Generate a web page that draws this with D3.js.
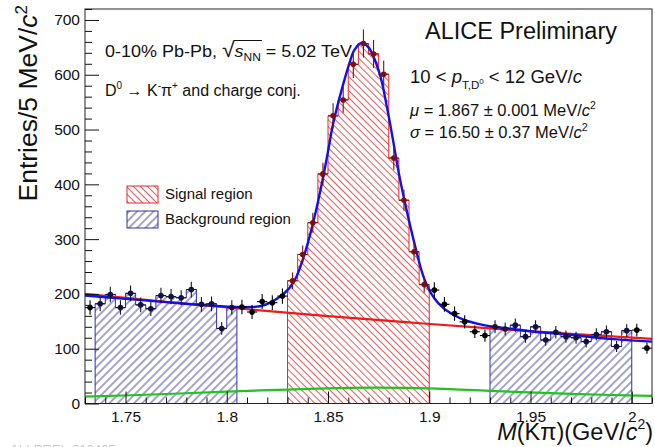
<!DOCTYPE html>
<html><head><meta charset="utf-8">
<script src="https://cdn.jsdelivr.net/npm/d3@7"></script>
<style>
body{margin:0;background:#fff}
svg{display:block;font-family:"Liberation Sans",Arial,Helvetica,sans-serif}
text{white-space:pre}
</style>
</head><body>
<svg id="c" width="655" height="447"></svg>
<script>
// ---------------- data ----------------
const binLow = 1.73, binWidth = 0.005;
const counts = [175,182,199,175,201,180,173,197,195,193,
                208,181,182,137,175,176,167,186,184,196,
                224,272,330,419,525,554,619,657,638,601,
                448,371,277,217,207,181,164,149,131,124,
                140,136,143,122,140,116,130,122,120,113,
                126,131,104,133,134,101];
const signalRange = [1.83, 1.90];
const bkgRanges = [[1.735, 1.805], [1.93, 2.00]];
const totalFit = [[1.730,197],[1.750,191],[1.770,185],[1.790,179],[1.805,176],[1.812,176],[1.817,178],
  [1.822,185],[1.827,197],[1.831,211],[1.834,228],[1.8375,262],[1.842,320],[1.847,402],[1.850,460],
  [1.8525,510],[1.857,576],[1.8605,620],[1.863,645],[1.8665,658],[1.870,650],[1.8755,602],[1.879,543],
  [1.882,483],[1.885,420],[1.8885,358],[1.8925,295],[1.8975,228],[1.9025,192],[1.907,174],[1.912,162],
  [1.917,153],[1.927,143],[1.937,138],[1.952,131],[1.971,125],[1.989,118],[2.01,113]];
const bkgFit = [[1.73,200],[1.77,185.5],[1.81,172],[1.85,159.5],[1.89,148],[1.93,137],[1.97,127],[2.01,118]];
const reflFit = [[1.73,12.5],[1.76,16],[1.80,21.5],[1.83,25.5],[1.86,28.5],[1.875,28.8],[1.90,27.5],
  [1.93,23],[1.96,19],[1.99,15.5],[2.01,14]];
const xTicks = [1.75, 1.8, 1.85, 1.9, 1.95, 2.0];
const xTickLabels = ["1.75","1.8","1.85","1.9","1.95","2"];
const yTicks = [0,100,200,300,400,500,600,700];
const legendLabels = ["Signal region","Background region"];

// ---------------- setup ----------------
const svg = d3.select("#c");
const x = d3.scaleLinear().domain([1.73, 2.01]).range([85, 652]);
const y = d3.scaleLinear().domain([0, 720]).range([403.5, 9]);
const RED = "#e8262a", BLUE = "#30309a";

const defs = svg.append("defs");
function hatch(id, color, angle, s, sw){
  const p = defs.append("pattern").attr("id", id).attr("patternUnits","userSpaceOnUse")
    .attr("width", s).attr("height", s).attr("patternTransform", `rotate(${angle})`);
  p.append("line").attr("x1", s/2).attr("y1", -1).attr("x2", s/2).attr("y2", s+1)
    .attr("stroke", color).attr("stroke-width", sw);
}
hatch("hRed", "#e24848", -45, 5, 0.9);
hatch("hBlue", "#383896", 45, 5.8, 0.9);

const bins = counts.map((c,i)=>({lo: binLow+i*binWidth, hi: binLow+(i+1)*binWidth,
  m: binLow+(i+0.5)*binWidth, c: c}));
const inR = (d,r)=> d.m > r[0] && d.m < r[1];

function regionPath(r){
  const bs = bins.filter(d=>inR(d,r));
  let p = `M${x(r[0])},${y(0)}`;
  bs.forEach(d=>{ p += `L${x(d.lo)},${y(d.c)}L${x(d.hi)},${y(d.c)}`; });
  p += `L${x(r[1])},${y(0)}Z`;
  return p;
}

const plot = svg.append("g");
bkgRanges.forEach(r=>{
  plot.append("path").attr("d", regionPath(r)).attr("fill","url(#hBlue)")
    .attr("stroke", BLUE).attr("stroke-width",1);
});
plot.append("path").attr("d", regionPath(signalRange)).attr("fill","url(#hRed)")
  .attr("stroke", RED).attr("stroke-width",1);

// curves
const line = d3.line().x(d=>x(d[0])).y(d=>y(d[1])).curve(d3.curveCatmullRom.alpha(0.5));
plot.append("path").attr("d", line(reflFit)).attr("fill","none").attr("stroke","#1fc41f").attr("stroke-width",2.2);
plot.append("path").attr("d", line(bkgFit)).attr("fill","none").attr("stroke","#f01818").attr("stroke-width",2.2);
plot.append("path").attr("d", line(totalFit)).attr("fill","none").attr("stroke","#1010e8").attr("stroke-width",2.4);

// data points
function ptColor(d){
  if (inR(d, signalRange)) return "#7a1010";
  if (bkgRanges.some(r=>inR(d,r))) return "#12123c";
  return "#000";
}
const pts = plot.append("g");
bins.forEach(d=>{
  const col = ptColor(d), e = Math.sqrt(d.c);
  pts.append("line").attr("x1", x(d.m)).attr("x2", x(d.m)).attr("y1", y(d.c-e)).attr("y2", y(d.c+e))
    .attr("stroke", col).attr("stroke-width",1.1);
  pts.append("line").attr("x1", x(d.lo)).attr("x2", x(d.hi)).attr("y1", y(d.c)).attr("y2", y(d.c))
    .attr("stroke", col).attr("stroke-width",1.1);
  pts.append("circle").attr("cx", x(d.m)).attr("cy", y(d.c)).attr("r", 2.8).attr("fill", col);
});

// frame
svg.append("rect").attr("x", x(1.73)).attr("y", y(720)).attr("width", x(2.01)-x(1.73))
  .attr("height", y(0)-y(720)).attr("fill","none").attr("stroke","#222").attr("stroke-width",1);

// axes
const fs = 15.5;
svg.append("g").attr("transform",`translate(${x(1.73)},0)`)
  .call(d3.axisLeft(y).tickValues(yTicks).tickSize(-14).tickPadding(5).tickFormat(d3.format("d")));
const yMinor = d3.range(0, 721, 20).filter(v=>v%100!==0);
svg.append("g").attr("transform",`translate(${x(1.73)},0)`)
  .call(d3.axisLeft(y).tickValues(yMinor).tickSize(-7).tickFormat(""));
svg.append("g").attr("transform",`translate(0,${y(0)})`)
  .call(d3.axisBottom(x).tickValues(xTicks).tickSize(-12).tickPadding(7).tickFormat((d,i)=>xTickLabels[i]));
const xMinor = d3.range(173, 202, 1).map(v=>v/100).filter(v=>Math.round(v*100)%5!==0);
svg.append("g").attr("transform",`translate(0,${y(0)})`)
  .call(d3.axisBottom(x).tickValues(xMinor).tickSize(-6).tickFormat(""));
svg.selectAll(".domain").remove();
svg.selectAll(".tick line").attr("stroke","#111").attr("stroke-width",1);
svg.selectAll(".tick text").attr("font-size", fs).attr("font-family",null).attr("fill","#111");

// rich text helper
function rich(parent, x0, y0, size, parts, anchor){
  const t = parent.append("text").attr("x", x0).attr("y", y0).attr("font-size", size).attr("fill","#111");
  if (anchor) t.attr("text-anchor", anchor);
  let cur = 0;
  parts.forEach(p=>{
    const sh = p.sh || 0;
    const ts = t.append("tspan").text(p.t).attr("dy", sh-cur);
    cur = sh;
    if (p.sz) ts.attr("font-size", p.sz);
    if (p.it) ts.attr("font-style","italic");
    if (p.cls) ts.attr("class", p.cls);
  });
  return t;
}

// axis titles
rich(svg.append("g").attr("transform","translate(37,5) rotate(-90)"), 0, 0, 26.5,
  [{t:"Entries/5 MeV/"},{t:"c",it:1},{t:"2",sz:17,sh:-10}], "end");
rich(svg, 653, 440, 23.5,
  [{t:"M",it:1},{t:"(K\u03c0)(GeV/"},{t:"c",it:1},{t:"2",sz:14,sh:-11},{t:")",sh:0}], "end");

// annotations
const t1 = rich(svg, 105, 57, 16.5, [
  {t:"0-10% Pb-Pb, "},{t:"\u221a",sz:21,cls:"sq"},{t:"s",it:1,cls:"ss"},{t:"NN",sz:11,sh:4,cls:"nn"},{t:" = 5.02 TeV",sh:0}]);
t1.attr("textLength", 247).attr("lengthAdjust","spacingAndGlyphs");
const sqB = t1.select(".sq").node().getBBox();
const nnB = t1.select(".nn").node().getBBox();
svg.append("line").attr("x1", sqB.x+sqB.width-1.5).attr("x2", nnB.x+nnB.width+1)
  .attr("y1", sqB.y+2.5).attr("y2", sqB.y+2.5).attr("stroke","#111").attr("stroke-width",1);

rich(svg, 105, 96, 16, [
  {t:"D"},{t:"0",sz:10,sh:-7},{t:" \u2192 K",sh:0},{t:"-",sz:10,sh:-7},{t:"\u03c0",sh:0},{t:"+",sz:10,sh:-7},
  {t:" and charge conj.",sh:0}]);

rich(svg, 425, 39, 23.5, [{t:"ALICE Preliminary"}]);

rich(svg, 410, 83, 18.5, [
  {t:"10 < "},{t:"p",it:1},{t:"T,D",sz:11.5,sh:6},{t:"0",sz:8,sh:1},{t:" < 12 GeV/",sh:0},{t:"c",it:1}]);
rich(svg, 410, 116, 16.5, [
  {t:"\u03bc",it:1},{t:" = 1.867 \u00b1 0.001 MeV/"},{t:"c",it:1},{t:"2",sz:10.5,sh:-7}]);
rich(svg, 410, 138, 16.5, [
  {t:"\u03c3",it:1},{t:" = 16.50 \u00b1 0.37 MeV/"},{t:"c",it:1},{t:"2",sz:10.5,sh:-7}]);

// legend
const leg = svg.append("g");
const legFills = ["url(#hRed)","url(#hBlue)"], legStrokes = [RED, BLUE];
legendLabels.forEach((lab,i)=>{
  const yy = 186 + i*25;
  leg.append("rect").attr("x",127).attr("y",yy).attr("width",31).attr("height",17)
    .attr("fill",legFills[i]).attr("stroke",legStrokes[i]).attr("stroke-width",1);
  leg.append("text").attr("x",165).attr("y",yy+13).attr("font-size",15).attr("fill","#111").text(lab);
});

// footer id (mostly cropped, as in the reference)
svg.append("text").attr("x",10).attr("y",454).attr("font-size",13).attr("fill","#c8c8c8").text("ALI-PREL-316405");
</script>
</body></html>
